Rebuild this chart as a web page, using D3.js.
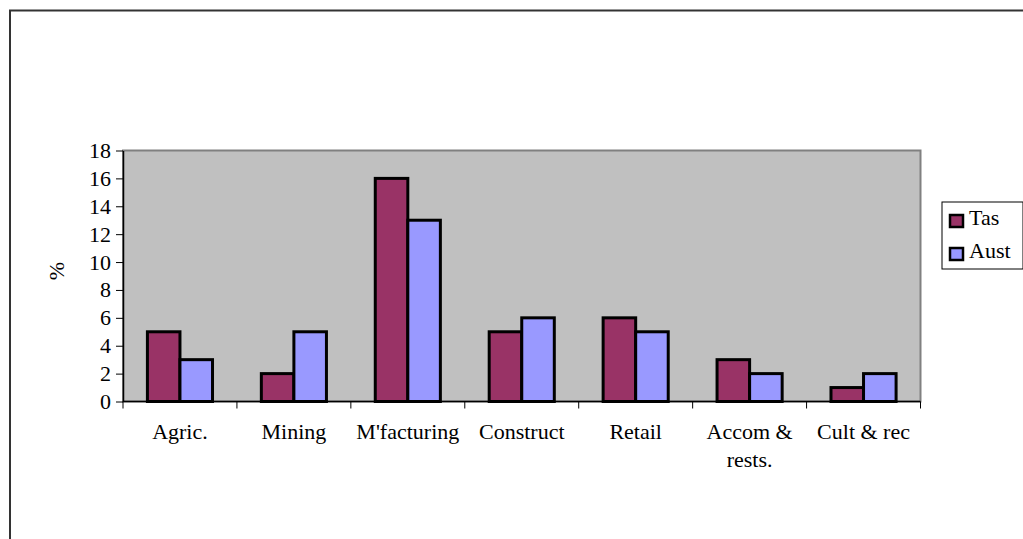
<!DOCTYPE html>
<html>
<head>
<meta charset="utf-8">
<script src="https://cdn.jsdelivr.net/npm/d3@7"></script>
<style>
  html, body { margin: 0; padding: 0; background: #fff; }
  svg { display: block; }
  text { font-family: "Liberation Serif", "Times New Roman", serif; fill: #000; }
</style>
</head>
<body>
<svg id="chart" width="1023" height="539"></svg>
<script>
// Industry employment share (%), Tasmania vs Australia
const categories = [["Agric."], ["Mining"], ["M'facturing"], ["Construct"], ["Retail"], ["Accom &", "rests."], ["Cult & rec"]];
const seriesNames = ["Tas", "Aust"];
const tasValues = [5, 2, 16, 5, 6, 3, 1];
const austValues = [3, 5, 13, 6, 5, 2, 2];
const yTicks = [0, 2, 4, 6, 8, 10, 12, 14, 16, 18];
const colors = ["#993366", "#9999FF"];

const FONT = 22;
const svg = d3.select("#chart");
const plot = { left: 123, top: 150.5, right: 920.5, bottom: 401.5 };

// Outer chart frame (left and top edges visible)
svg.append("path")
  .attr("d", `M10,539 V10.5 H1023`)
  .attr("fill", "none")
  .attr("stroke", "#333")
  .attr("stroke-width", 2);

const x0 = d3.scaleBand()
  .domain(d3.range(categories.length))
  .range([plot.left, plot.right])
  .paddingInner(0).paddingOuter(0);

// 150% gap width: two bars plus 1.5 bar widths of gap per category
const barW = x0.bandwidth() / 3.5;

const y = d3.scaleLinear().domain([0, 18]).range([plot.bottom, plot.top]);

// Plot background
svg.append("rect")
  .attr("x", plot.left).attr("y", plot.top)
  .attr("width", plot.right - plot.left).attr("height", plot.bottom - plot.top)
  .attr("fill", "#C0C0C0")
  .attr("stroke", "#808080")
  .attr("stroke-width", 2);

// Bars
const series = [tasValues, austValues];
series.forEach((vals, si) => {
  svg.append("g").selectAll("rect")
    .data(vals)
    .join("rect")
    .attr("x", (d, i) => x0(i) + x0.bandwidth() / 2 - barW + si * barW)
    .attr("y", d => y(d))
    .attr("width", barW)
    .attr("height", d => y(0) - y(d))
    .attr("fill", colors[si])
    .attr("stroke", "#000")
    .attr("stroke-width", 3);
});

// Y axis
const yAxis = d3.axisLeft(y).tickValues(yTicks).tickSize(7).tickPadding(5).tickSizeOuter(0);
const gy = svg.append("g").attr("transform", `translate(${plot.left},0)`).call(yAxis);
gy.attr("font-size", FONT).attr("font-family", "Liberation Serif");
gy.select(".domain").attr("stroke", "#000").attr("stroke-width", 1.5);
gy.selectAll(".tick line").attr("stroke", "#000");
gy.selectAll(".tick text").attr("fill", "#000");

// X axis: ticks at category boundaries
const gx = svg.append("g").attr("transform", `translate(0,${plot.bottom})`);
gx.append("line")
  .attr("x1", plot.left).attr("x2", plot.right)
  .attr("stroke", "#000").attr("stroke-width", 1.5);
gx.selectAll("line.tick")
  .data(d3.range(categories.length + 1))
  .join("line")
  .attr("class", "tick")
  .attr("x1", i => i < categories.length ? x0(i) : plot.right)
  .attr("x2", i => i < categories.length ? x0(i) : plot.right)
  .attr("y1", 0).attr("y2", 7)
  .attr("stroke", "#000");

const labels = gx.selectAll("text.cat")
  .data(categories)
  .join("text")
  .attr("class", "cat")
  .attr("x", (d, i) => x0(i) + x0.bandwidth() / 2)
  .attr("y", 37)
  .attr("text-anchor", "middle")
  .attr("font-size", FONT);
labels.selectAll("tspan")
  .data(d => d)
  .join("tspan")
  .attr("x", function() { return this.parentNode.getAttribute("x"); })
  .attr("dy", (d, i) => i === 0 ? 0 : 28)
  .text(d => d);

// Y axis title
svg.append("text")
  .attr("transform", `translate(64,271) rotate(-90)`)
  .attr("text-anchor", "middle")
  .attr("font-size", FONT)
  .text("%");

// Legend
const lg = svg.append("g").attr("transform", "translate(942,202)");
lg.append("rect")
  .attr("x", 0).attr("y", 0).attr("width", 81).attr("height", 67)
  .attr("fill", "#fff").attr("stroke", "#000").attr("stroke-width", 1);
seriesNames.forEach((name, i) => {
  const row = lg.append("g").attr("transform", `translate(0,${23 + i * 33})`);
  row.append("rect")
    .attr("x", 8).attr("y", -10).attr("width", 13).attr("height", 12)
    .attr("fill", colors[i]).attr("stroke", "#000").attr("stroke-width", 2.5);
  row.append("text")
    .attr("x", 27).attr("y", 0)
    .attr("font-size", FONT)
    .text(name);
});
</script>
</body>
</html>
